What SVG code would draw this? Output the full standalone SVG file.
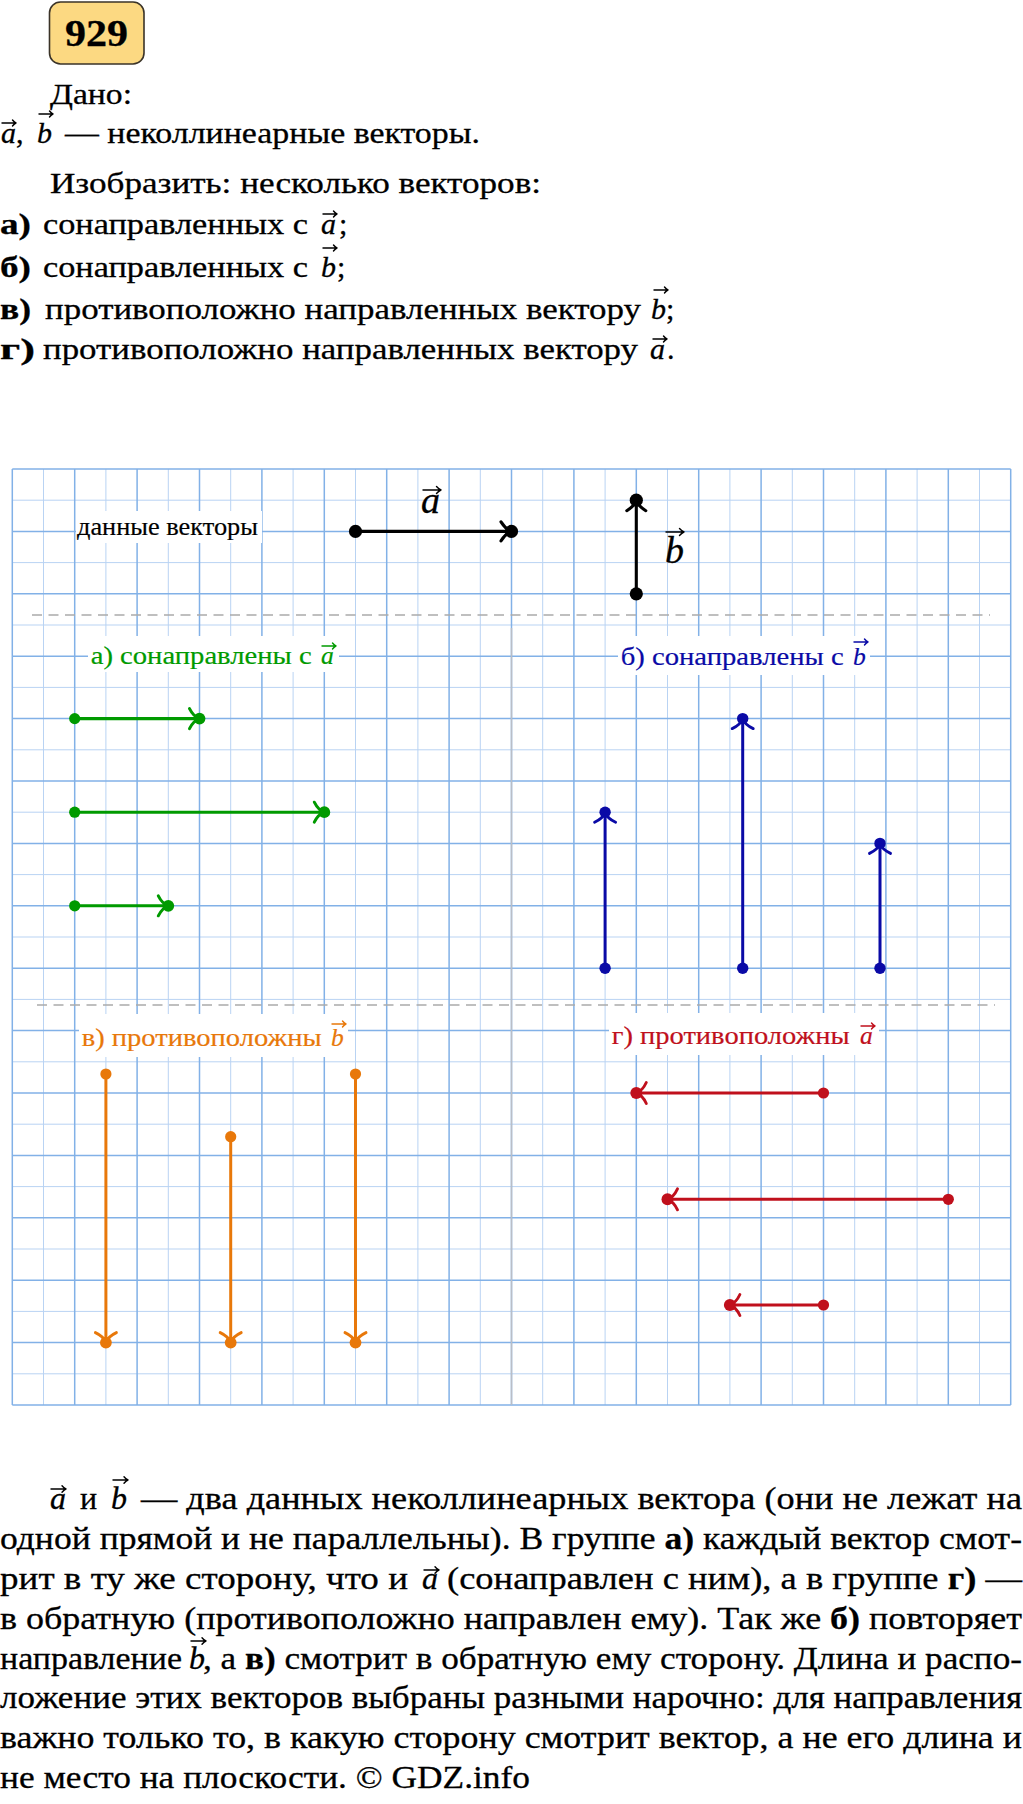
<svg xmlns="http://www.w3.org/2000/svg" width="1023" height="1804" viewBox="0 0 1023 1804">
<style>
.t{font-family:"Liberation Serif","DejaVu Serif",serif;font-size:30px;fill:#000;stroke:#000;stroke-width:0.3}
.p{font-size:32px}
.lb{font-size:25.5px;stroke-width:0.2}
.big{font-size:38px}
.it{font-style:italic}
.bd{font-weight:bold}
.minor{stroke:#b9d3f3;stroke-width:1;fill:none}
.major{stroke:#82b1e7;stroke-width:1.5;fill:none}
.dash{stroke:#ababab;stroke-width:1.3;stroke-dasharray:10 6.5;fill:none}
.acc{fill:none;stroke-width:1.4;stroke-linecap:round;stroke-linejoin:round}
.v{fill:none;stroke-linecap:round}
.wb{fill:#fff}
</style>
<defs>
<marker id="ah-k" viewBox="-13 -13 16 26" refX="0" refY="0" markerWidth="16" markerHeight="26" markerUnits="userSpaceOnUse" orient="auto" overflow="visible"><path d="M-10.5,-9.5 C-7,-4 -3,-1 0,0 C-3,1 -7,4 -10.5,9.5" fill="none" stroke="#000" stroke-width="3.1" stroke-linecap="round"/></marker>
<marker id="ah-g" viewBox="-13 -13 16 26" refX="0" refY="0" markerWidth="16" markerHeight="26" markerUnits="userSpaceOnUse" orient="auto" overflow="visible"><path d="M-10,-10 C-7,-4 -3,-1 0,0 C-3,1 -7,4 -10,10" fill="none" stroke="#009a00" stroke-width="3" stroke-linecap="round"/></marker>
<marker id="ah-b" viewBox="-13 -13 16 26" refX="0" refY="0" markerWidth="16" markerHeight="26" markerUnits="userSpaceOnUse" orient="auto" overflow="visible"><path d="M-10,-10.5 C-7,-4 -3,-1 0,0 C-3,1 -7,4 -10,10.5" fill="none" stroke="#0a0aa6" stroke-width="2.9" stroke-linecap="round"/></marker>
<marker id="ah-o" viewBox="-13 -13 16 26" refX="0" refY="0" markerWidth="16" markerHeight="26" markerUnits="userSpaceOnUse" orient="auto" overflow="visible"><path d="M-10,-10.5 C-7,-4 -3,-1 0,0 C-3,1 -7,4 -10,10.5" fill="none" stroke="#e8780a" stroke-width="2.9" stroke-linecap="round"/></marker>
<marker id="ah-r" viewBox="-13 -13 16 26" refX="0" refY="0" markerWidth="16" markerHeight="26" markerUnits="userSpaceOnUse" orient="auto" overflow="visible"><path d="M-10,-10.5 C-7,-4 -3,-1 0,0 C-3,1 -7,4 -10,10.5" fill="none" stroke="#c0101c" stroke-width="2.9" stroke-linecap="round"/></marker>
</defs>
<rect width="1023" height="1804" fill="#fff"/>

<g id="badge">
<rect x="49.5" y="2" width="94.5" height="62" rx="11" fill="#fcd982" stroke="#3a3328" stroke-width="1.6"/>
<text class="t bd" x="65" y="46" style="font-size:38px" textLength="63" lengthAdjust="spacingAndGlyphs">929</text>
</g>

<g id="problem-text">
<text class="t" x="50" y="104" textLength="82" lengthAdjust="spacingAndGlyphs">Дано:</text>
<text class="t it" x="1" y="143">a</text>
<text class="t" x="16" y="143">,</text>
<text class="t it" x="37" y="143">b</text>
<text class="t" x="65" y="143" textLength="415" lengthAdjust="spacingAndGlyphs">— неколлинеарные векторы.</text>
<text class="t" x="50" y="193" textLength="491" lengthAdjust="spacingAndGlyphs">Изобразить: несколько векторов:</text>
<text class="t bd" x="0" y="234" textLength="31" lengthAdjust="spacingAndGlyphs">а)</text>
<text class="t" x="43" y="234" textLength="265" lengthAdjust="spacingAndGlyphs">сонаправленных с</text>
<text class="t it" x="321" y="234">a</text>
<text class="t" x="339" y="234">;</text>
<text class="t bd" x="0" y="277" textLength="31" lengthAdjust="spacingAndGlyphs">б)</text>
<text class="t" x="43" y="277" textLength="265" lengthAdjust="spacingAndGlyphs">сонаправленных с</text>
<text class="t it" x="321" y="277">b</text>
<text class="t" x="337" y="277">;</text>
<text class="t bd" x="0" y="319" textLength="31" lengthAdjust="spacingAndGlyphs">в)</text>
<text class="t" x="45" y="319" textLength="596" lengthAdjust="spacingAndGlyphs">противоположно направленных вектору</text>
<text class="t it" x="651" y="319">b</text>
<text class="t" x="666" y="319">;</text>
<text class="t bd" x="0" y="359" textLength="35" lengthAdjust="spacingAndGlyphs">г)</text>
<text class="t" x="43" y="359" textLength="595" lengthAdjust="spacingAndGlyphs">противоположно направленных вектору</text>
<text class="t it" x="650" y="359">a</text>
<text class="t" x="667" y="359">.</text>
<g class="acc" stroke="#000">
<path d="M2,123 H16 M12.5,120 Q14.5,122.5 16,123 Q14.5,123.5 12.5,126"/>
<path d="M39,114 H53 M49.5,111 Q51.5,113.5 53,114 Q51.5,114.5 49.5,117"/>
<path d="M323,214 H337 M333.5,211 Q335.5,213.5 337,214 Q335.5,214.5 333.5,217"/>
<path d="M323,248 H337 M333.5,245 Q335.5,247.5 337,248 Q335.5,248.5 333.5,251"/>
<path d="M654,290 H668 M664.5,287 Q666.5,289.5 668,290 Q666.5,290.5 664.5,293"/>
<path d="M653,339 H667 M663.5,336 Q665.5,338.5 667,339 Q665.5,339.5 663.5,342"/>
</g>
</g>

<g id="grid">
<path class="minor" d="M43.5,469V1405M105.9,469V1405M168.3,469V1405M230.7,469V1405M293.1,469V1405M355.5,469V1405M417.9,469V1405M480.3,469V1405M542.7,469V1405M605.1,469V1405M667.5,469V1405M729.9,469V1405M792.3,469V1405M854.7,469V1405M917.1,469V1405M979.5,469V1405M12.3,500.2H1010.7M12.3,562.6H1010.7M12.3,625H1010.7M12.3,687.4H1010.7M12.3,749.8H1010.7M12.3,812.2H1010.7M12.3,874.6H1010.7M12.3,937H1010.7M12.3,999.4H1010.7M12.3,1061.8H1010.7M12.3,1124.2H1010.7M12.3,1186.6H1010.7M12.3,1249H1010.7M12.3,1311.4H1010.7M12.3,1373.8H1010.7"/>
<path class="major" d="M12.3,469V1405M74.7,469V1405M137.1,469V1405M199.5,469V1405M261.9,469V1405M324.3,469V1405M386.7,469V1405M449.1,469V1405M511.5,469V1405M573.9,469V1405M636.3,469V1405M698.7,469V1405M761.1,469V1405M823.5,469V1405M885.9,469V1405M948.3,469V1405M1010.7,469V1405M12.3,469H1010.7M12.3,531.4H1010.7M12.3,593.8H1010.7M12.3,656.2H1010.7M12.3,718.6H1010.7M12.3,781H1010.7M12.3,843.4H1010.7M12.3,905.8H1010.7M12.3,968.2H1010.7M12.3,1030.6H1010.7M12.3,1093H1010.7M12.3,1155.4H1010.7M12.3,1217.8H1010.7M12.3,1280.2H1010.7M12.3,1342.6H1010.7M12.3,1405H1010.7"/>
<path d="M511.5,628V1405" stroke="#b9bec8" stroke-width="1.5" fill="none"/>
<path class="dash" d="M32,615H990"/>
<path class="dash" d="M37,1005H995"/>
</g>

<g id="label-given">
<rect class="wb" x="76" y="511" width="186" height="32"/>
<text class="t lb" x="77" y="535" textLength="181" lengthAdjust="spacingAndGlyphs">данные векторы</text>
</g>
<g id="label-a">
<text class="t it big" x="421" y="513">a</text>
<path class="acc" stroke="#000" stroke-width="1.6" d="M423,490 H441 M436.5,486.5 Q439,489.2 441,490 Q439,490.8 436.5,493.5"/>
</g>
<g id="label-b">
<text class="t it big" x="665" y="563">b</text>
<path class="acc" stroke="#000" stroke-width="1.6" d="M666,532 H684 M679.5,528.5 Q682,531.2 684,532 Q682,532.8 679.5,535.5"/>
</g>

<g id="label-green">
<rect class="wb" x="88" y="636" width="251" height="36"/>
<text class="t lb" x="90.7" y="664" style="fill:#009a00;stroke:#009a00" textLength="221" lengthAdjust="spacingAndGlyphs">а) сонаправлены с</text>
<text class="t lb it" x="321" y="664" style="fill:#009a00;stroke:#009a00">a</text>
<path class="acc" stroke="#009a00" d="M322,646 H336 M332.5,643 Q334.5,645.5 336,646 Q334.5,646.5 332.5,649"/>
</g>
<g id="label-blue">
<rect class="wb" x="618" y="636" width="252" height="39"/>
<text class="t lb" x="620.7" y="665" style="fill:#0a0aa6;stroke:#0a0aa6" textLength="223" lengthAdjust="spacingAndGlyphs">б) сонаправлены с</text>
<text class="t lb it" x="853" y="665" style="fill:#0a0aa6;stroke:#0a0aa6">b</text>
<path class="acc" stroke="#0a0aa6" d="M854,642 H868 M864.5,639 Q866.5,641.5 868,642 Q866.5,642.5 864.5,645"/>
</g>
<g id="label-orange">
<rect class="wb" x="79" y="1014" width="269" height="43"/>
<text class="t lb" x="81.7" y="1046" style="fill:#e8780a;stroke:#e8780a" textLength="240" lengthAdjust="spacingAndGlyphs">в) противоположны</text>
<text class="t lb it" x="331" y="1046" style="fill:#e8780a;stroke:#e8780a">b</text>
<path class="acc" stroke="#e8780a" d="M332,1024 H346 M342.5,1021 Q344.5,1023.5 346,1024 Q344.5,1024.5 342.5,1027"/>
</g>
<g id="label-red">
<rect class="wb" x="609" y="1013" width="270" height="42"/>
<text class="t lb" x="611.7" y="1044" style="fill:#c0101c;stroke:#c0101c" textLength="238" lengthAdjust="spacingAndGlyphs">г) противоположны</text>
<text class="t lb it" x="860" y="1044" style="fill:#c0101c;stroke:#c0101c">a</text>
<path class="acc" stroke="#c0101c" d="M861,1026 H875 M871.5,1023 Q873.5,1025.5 875,1026 Q873.5,1026.5 871.5,1029"/>
</g>

<g id="connectors">
<g id="vec-a" fill="#000">
<path class="v" stroke="#000" stroke-width="3.1" d="M355.5,531.4H511.5" marker-end="url(#ah-k)"/>
<circle cx="355.5" cy="531.4" r="6.6"/><circle cx="511.5" cy="531.4" r="6.6"/>
</g>
<g id="vec-b" fill="#000">
<path class="v" stroke="#000" stroke-width="3.1" d="M636.3,593.8V500.2" marker-end="url(#ah-k)"/>
<circle cx="636.3" cy="593.8" r="6.6"/><circle cx="636.3" cy="500.2" r="6.6"/>
</g>
<g id="green-vectors" fill="#009a00">
<path class="v" stroke="#009a00" stroke-width="3.1" d="M74.7,718.6H199.5" marker-end="url(#ah-g)"/>
<path class="v" stroke="#009a00" stroke-width="3.1" d="M74.7,812.2H324.3" marker-end="url(#ah-g)"/>
<path class="v" stroke="#009a00" stroke-width="3.1" d="M74.7,905.8H168.3" marker-end="url(#ah-g)"/>
<circle cx="74.7" cy="718.6" r="5.6"/><circle cx="199.5" cy="718.6" r="5.9"/>
<circle cx="74.7" cy="812.2" r="5.6"/><circle cx="324.3" cy="812.2" r="5.9"/>
<circle cx="74.7" cy="905.8" r="5.6"/><circle cx="168.3" cy="905.8" r="5.9"/>
</g>
<g id="blue-vectors" fill="#0a0aa6">
<path class="v" stroke="#0a0aa6" stroke-width="3" d="M605.1,968.2V812.2" marker-end="url(#ah-b)"/>
<path class="v" stroke="#0a0aa6" stroke-width="3" d="M742.7,968.2V718.6" marker-end="url(#ah-b)"/>
<path class="v" stroke="#0a0aa6" stroke-width="3" d="M880,968.2V843.4" marker-end="url(#ah-b)"/>
<circle cx="605.1" cy="968.2" r="5.7"/><circle cx="605.1" cy="812.2" r="5.7"/>
<circle cx="742.7" cy="968.2" r="5.7"/><circle cx="742.7" cy="718.6" r="5.7"/>
<circle cx="880" cy="968.2" r="5.7"/><circle cx="880" cy="843.4" r="5.7"/>
</g>
<g id="orange-vectors" fill="#e8780a">
<path class="v" stroke="#e8780a" stroke-width="3" d="M105.9,1074V1342.6" marker-end="url(#ah-o)"/>
<path class="v" stroke="#e8780a" stroke-width="3" d="M230.7,1136.7V1342.6" marker-end="url(#ah-o)"/>
<path class="v" stroke="#e8780a" stroke-width="3" d="M355.5,1074V1342.6" marker-end="url(#ah-o)"/>
<circle cx="105.9" cy="1074" r="5.6"/><circle cx="105.9" cy="1342.6" r="5.9"/>
<circle cx="230.7" cy="1136.7" r="5.6"/><circle cx="230.7" cy="1342.6" r="5.9"/>
<circle cx="355.5" cy="1074" r="5.6"/><circle cx="355.5" cy="1342.6" r="5.9"/>
</g>
<g id="red-vectors" fill="#c0101c">
<path class="v" stroke="#c0101c" stroke-width="3" d="M823.5,1093H636.3" marker-end="url(#ah-r)"/>
<path class="v" stroke="#c0101c" stroke-width="3" d="M948.3,1199.3H667.5" marker-end="url(#ah-r)"/>
<path class="v" stroke="#c0101c" stroke-width="3" d="M823.5,1305H729.9" marker-end="url(#ah-r)"/>
<circle cx="823.5" cy="1093" r="5.6"/><circle cx="636.3" cy="1093" r="6"/>
<circle cx="948.3" cy="1199.3" r="5.6"/><circle cx="667.5" cy="1199.3" r="6"/>
<circle cx="823.5" cy="1305" r="5.6"/><circle cx="729.9" cy="1305" r="6"/>
</g>
</g>

<g id="explanation">
<text class="t p it" x="50" y="1509">a</text>
<text class="t p" x="80" y="1509">и</text>
<text class="t p it" x="111" y="1509">b</text>
<text class="t p" x="141" y="1509" textLength="881" lengthAdjust="spacingAndGlyphs">— два данных неколлинеарных вектора (они не лежат на</text>
<text class="t p" x="0" y="1549" textLength="1022" lengthAdjust="spacingAndGlyphs">одной прямой и не параллельны). В группе <tspan class="bd">а)</tspan> каждый вектор смот-</text>
<text class="t p" x="0" y="1589" textLength="408" lengthAdjust="spacingAndGlyphs">рит в ту же сторону, что и</text>
<text class="t p it" x="422" y="1589">a</text>
<text class="t p" x="447" y="1589" textLength="575" lengthAdjust="spacingAndGlyphs">(сонаправлен с ним), а в группе <tspan class="bd">г)</tspan> —</text>
<text class="t p" x="0" y="1629" textLength="1022" lengthAdjust="spacingAndGlyphs">в обратную (противоположно направлен ему). Так же <tspan class="bd">б)</tspan> повторяет</text>
<text class="t p" x="0" y="1669" textLength="182" lengthAdjust="spacingAndGlyphs">направление</text>
<text class="t p it" x="189" y="1669">b</text>
<text class="t p" x="203" y="1669" textLength="819" lengthAdjust="spacingAndGlyphs">, а <tspan class="bd">в)</tspan> смотрит в обратную ему сторону. Длина и распо-</text>
<text class="t p" x="0" y="1708" textLength="1022" lengthAdjust="spacingAndGlyphs">ложение этих векторов выбраны разными нарочно: для направления</text>
<text class="t p" x="0" y="1748" textLength="1022" lengthAdjust="spacingAndGlyphs">важно только то, в какую сторону смотрит вектор, а не его длина и</text>
<text class="t p" x="0" y="1788" textLength="530" lengthAdjust="spacingAndGlyphs">не место на плоскости. © GDZ.info</text>
<g class="acc" stroke="#000" stroke-width="1.5">
<path d="M51,1489 H66 M62,1485.7 Q64.3,1488.4 66,1489 Q64.3,1489.6 62,1492.3"/>
<path d="M113,1480 H128 M124,1476.7 Q126.3,1479.4 128,1480 Q126.3,1480.6 124,1483.3"/>
<path d="M424,1570 H439 M435,1566.7 Q437.3,1569.4 439,1570 Q437.3,1570.6 435,1573.3"/>
<path d="M191,1641 H206 M202,1637.7 Q204.3,1640.4 206,1641 Q204.3,1641.6 202,1644.3"/>
</g>
</g>
</svg>
